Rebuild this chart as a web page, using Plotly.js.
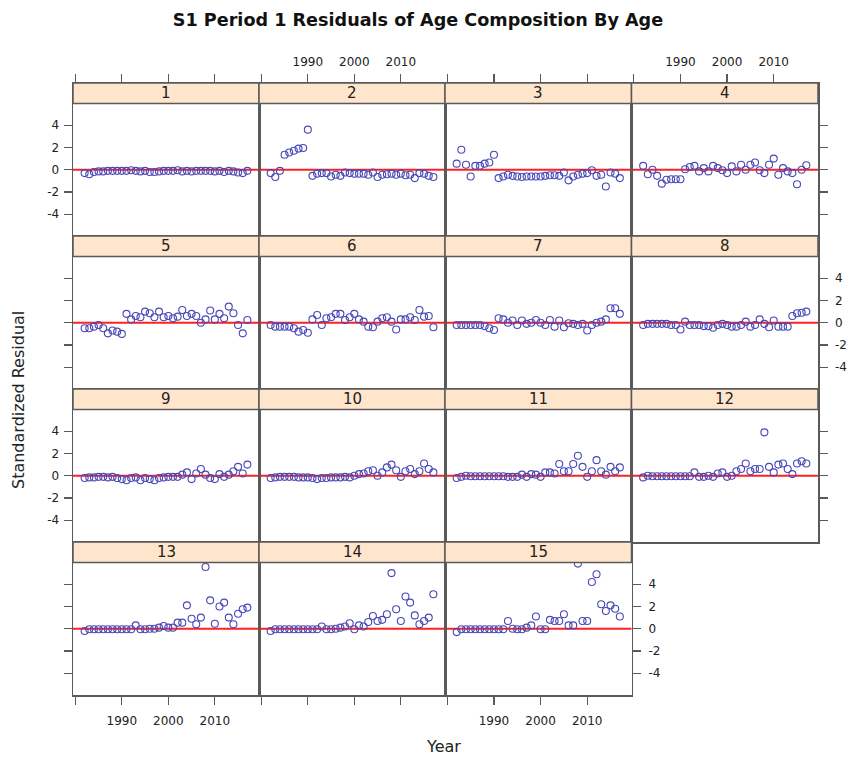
<!DOCTYPE html>
<html>
<head>
<meta charset="utf-8">
<script src="https://cdn.plot.ly/plotly-3.0.1.min.js"></script>
<style>html,body{margin:0;padding:0;background:#fff;}#chart{width:847px;height:759px;}</style>
</head>
<body>
<div id="chart"></div>
<script>
// ---------------- data ----------------
const years = [1982,1983,1984,1985,1986,1987,1988,1989,1990,1991,1992,1993,1994,1995,1996,1997,1998,1999,
               2000,2001,2002,2003,2004,2005,2006,2007,2008,2009,2010,2011,2012,2013,2014,2015,2016,2017];
const panelLabels = ["1","2","3","4","5","6","7","8","9","10","11","12","13","14","15"];
const age1  = [-0.3,-0.4,-0.2,-0.15,-0.15,-0.1,-0.1,-0.1,-0.1,-0.1,-0.05,-0.1,-0.15,-0.1,-0.2,-0.2,-0.15,-0.1,-0.1,-0.1,-0.05,-0.15,-0.1,-0.15,-0.1,-0.1,-0.1,-0.1,-0.15,-0.1,-0.2,-0.1,-0.15,-0.25,-0.3,-0.1];
const age2  = [-0.3,-0.65,-0.1,1.35,1.55,1.7,1.9,1.95,3.6,-0.55,-0.35,-0.3,-0.3,-0.6,-0.45,-0.55,-0.25,-0.3,-0.35,-0.35,-0.35,-0.45,-0.25,-0.65,-0.45,-0.4,-0.35,-0.45,-0.35,-0.5,-0.45,-0.75,-0.3,-0.35,-0.55,-0.65];
const age3  = [0.55,1.8,0.45,-0.6,0.35,0.35,0.55,0.65,1.35,-0.75,-0.6,-0.45,-0.55,-0.6,-0.65,-0.6,-0.6,-0.6,-0.6,-0.55,-0.5,-0.5,-0.55,-0.25,-0.95,-0.6,-0.45,-0.35,-0.3,-0.05,-0.55,-0.45,-1.5,-0.25,-0.35,-0.75];
const age4  = [0.35,-0.4,0,-0.55,-1.25,-0.9,-0.85,-0.85,-0.85,0.05,0.25,0.35,-0.15,0.15,-0.15,0.35,0.15,-0.05,-0.3,0.3,-0.15,0.45,0,0.45,0.65,-0.05,-0.3,0.45,1.0,-0.45,0.15,-0.15,-0.3,-1.3,0,0.4];
const age5  = [-0.5,-0.5,-0.35,-0.2,-0.5,-0.95,-0.7,-0.8,-1.0,0.8,0.3,0.6,0.5,1.0,0.85,0.5,1.0,0.5,0.6,0.4,0.55,1.15,0.6,0.8,0.6,0,0.3,1.1,0.3,0.8,0.4,1.45,0.85,-0.2,-0.95,0.25];
const age6  = [-0.2,-0.35,-0.35,-0.35,-0.35,-0.5,-0.8,-0.65,-0.9,0.3,0.7,-0.2,0.4,0.5,0.8,0.8,0.25,0.5,0.8,0.3,0.1,-0.35,-0.4,0.1,0.4,0.5,0.1,-0.6,0.3,0.3,0.5,0.25,1.15,0.55,0.6,-0.4];
const age7  = [-0.2,-0.2,-0.2,-0.2,-0.2,-0.2,-0.3,-0.5,-0.65,0.4,0.3,0,0.2,-0.2,0.2,-0.1,0,0.25,0,-0.2,0.25,-0.35,0.2,-0.4,-0.05,-0.1,-0.2,-0.1,-0.7,-0.2,0,0.1,0.3,1.3,1.3,0.8];
const age8  = [-0.2,-0.1,-0.1,-0.1,-0.1,-0.1,-0.2,-0.2,-0.6,0.1,-0.2,-0.2,-0.2,-0.3,-0.3,-0.45,-0.2,-0.1,-0.2,-0.35,-0.35,-0.2,0.1,-0.35,-0.2,0.3,-0.1,-0.4,0.2,-0.35,-0.35,-0.35,0.6,0.85,0.9,1.0];
const age9  = [-0.2,-0.15,-0.15,-0.1,-0.1,-0.15,-0.1,-0.2,-0.3,-0.4,-0.2,-0.15,-0.4,-0.2,-0.3,-0.4,-0.2,-0.15,-0.1,-0.1,-0.1,0.1,0.3,-0.3,0.2,0.6,0.1,-0.2,-0.3,0.15,-0.1,0.1,0.4,0.8,0.2,1.0];
const age10 = [-0.2,-0.15,-0.1,-0.1,-0.1,-0.1,-0.15,-0.15,-0.15,-0.2,-0.3,-0.2,-0.2,-0.15,-0.15,-0.15,-0.1,-0.15,0,0.15,0.2,0.4,0.5,0,0.3,0.75,1.0,0.5,-0.1,0.4,0.6,0.15,0.4,1.1,0.6,0.3];
const age11 = [-0.2,-0.1,0,-0.05,-0.05,-0.05,-0.05,-0.05,-0.05,-0.05,-0.05,-0.1,-0.1,-0.1,0.1,-0.1,0.15,0.1,-0.1,0.3,0.3,0.2,1.05,0.4,0.4,1.05,1.8,0.8,-0.1,0.4,1.4,0.4,0.1,0.8,0.4,0.75];
const age12 = [-0.15,0,-0.05,-0.05,-0.05,-0.05,-0.05,-0.05,-0.05,-0.05,-0.05,0.3,-0.1,-0.1,0,-0.1,0.2,0.3,-0.1,0,0.4,0.6,1.1,0.4,0.6,0.6,3.9,0.8,0.3,1.0,1.1,0.6,0.15,1.1,1.3,1.1];
const age13 = [-0.2,-0.05,-0.05,-0.05,-0.05,-0.05,-0.05,-0.05,-0.05,-0.05,-0.05,0.3,-0.05,-0.05,0,0,0.1,0.25,0.1,0.1,0.55,0.55,2.1,0.9,0.4,1.0,5.55,2.55,0.45,2.0,2.35,1.0,0.4,1.35,1.75,1.9];
const age14 = [-0.2,-0.05,-0.05,-0.05,-0.05,-0.05,-0.05,-0.05,-0.05,-0.05,-0.05,0.2,-0.05,-0.05,0,0.1,0.2,0.5,-0.05,0.3,0.2,0.6,1.15,0.7,0.8,1.3,5.0,1.75,0.7,2.9,2.35,1.2,0.4,0.7,1.0,3.1];
const age15 = [-0.3,-0.05,-0.05,-0.05,-0.05,-0.05,-0.05,-0.05,-0.05,-0.05,-0.05,0.7,0,-0.05,-0.05,0.1,0.3,1.1,-0.05,-0.05,0.8,0.7,0.7,1.3,0.3,0.3,5.85,0.7,0.7,4.2,4.9,2.2,1.6,2.1,1.8,1.1];
const residuals = [age1,age2,age3,age4,age5,age6,age7,age8,age9,age10,age11,age12,age13,age14,age15];
const xTickVals = [1980,1990,2000,2010];
const xTickText = ["","1990","2000","2010"];
const yTickVals = [-4,-2,0,2,4];
const yTickText = ["-4","-2","0","2","4"];

// ---------------- layout geometry ----------------
const W = 847, H = 759;
const colEdges = [73, 259, 445, 631.5, 818];
const rowEdges = [83, 236, 389, 542, 695];
const stripH = 20.5;
const XRANGE = [1979.5, 2019.5];
const YMIN = -5.95, YMAX = 5.95;
const FONT = "DejaVu Sans, Liberation Sans, Arial, sans-serif";
const frameColor = "#5a5a5a";
const tickFont = {family: FONT, size: 12, color: "#222"};

const traces = [];
const layout = {
  width: W, height: H,
  margin: {l: 0, r: 0, t: 0, b: 0},
  paper_bgcolor: "#fff", plot_bgcolor: "#fff",
  showlegend: false,
  title: {text: "<b>S1 Period 1 Residuals of Age Composition By Age</b>",
          x: 418 / W, xref: "paper", xanchor: "center",
          y: 1 - 20 / H, yref: "container", yanchor: "middle",
          font: {family: FONT, size: 17.6, color: "#111"}},
  shapes: [], annotations: []
};

residuals.forEach((vals, i) => {
  const n = i + 1;
  const r = Math.floor(i / 4), c = i % 4;
  const sx = n === 1 ? "" : String(n);
  const xName = "xaxis" + sx, yName = "yaxis" + sx;
  const xRef = "x" + sx, yRef = "y" + sx;
  const plotH = rowEdges[r + 1] - rowEdges[r] - stripH;
  const unit = (YMAX - YMIN) / plotH;
  const yTop = YMAX + stripH * unit;

  traces.push({
    type: "scatter", mode: "markers", x: years, y: vals,
    xaxis: xRef, yaxis: yRef,
    marker: {symbol: "circle-open", size: 7, color: "#4848b8", line: {width: 1.1, color: "#4848b8"}},
    hoverinfo: "skip"
  });

  const xa = {
    domain: [colEdges[c] / W, colEdges[c + 1] / W],
    range: XRANGE, anchor: yRef,
    showline: true, mirror: true, linecolor: frameColor, linewidth: 1.5,
    showgrid: false, zeroline: false,
    tickmode: "array", tickvals: xTickVals, ticktext: xTickText,
    tickfont: tickFont, tickcolor: frameColor, ticklen: 8, tickwidth: 1.3,
    fixedrange: true
  };
  if (r === 0) {
    xa.side = "top"; xa.ticks = "outside"; xa.showticklabels = (c % 2 === 1); xa.ticklabelstandoff = 3;
  } else if (r === 3) {
    xa.side = "bottom"; xa.ticks = "outside"; xa.showticklabels = (c % 2 === 0); xa.ticklabelstandoff = 6;
  } else {
    xa.ticks = ""; xa.showticklabels = false;
  }
  layout[xName] = xa;

  const ya = {
    domain: [1 - rowEdges[r + 1] / H, 1 - rowEdges[r] / H],
    range: [YMIN, yTop], anchor: xRef,
    showline: true, mirror: true, linecolor: frameColor, linewidth: 1.5,
    showgrid: false, zeroline: false,
    tickmode: "array", tickvals: yTickVals, ticktext: yTickText,
    tickfont: tickFont, tickcolor: frameColor, ticklen: 8, tickwidth: 1.3,
    fixedrange: true
  };
  const lastInRow = (c === 3) || (i === residuals.length - 1);
  if (c === 0) {
    ya.side = "left"; ya.ticks = "outside"; ya.showticklabels = (r % 2 === 0); ya.ticklabelstandoff = 2;
  } else if (lastInRow) {
    ya.side = "right"; ya.ticks = "outside"; ya.showticklabels = (r % 2 === 1); ya.ticklabelstandoff = 5;
  } else {
    ya.ticks = ""; ya.showticklabels = false;
  }
  layout[yName] = ya;

  // zero reference line
  layout.shapes.push({type: "line", xref: xRef + " domain", x0: 0, x1: 1, yref: yRef, y0: 0, y1: 0,
                      line: {color: "#ff2020", width: 2}, layer: "below"});
  // strip
  layout.shapes.push({type: "rect", xref: xRef + " domain", x0: 0, x1: 1, yref: yRef, y0: YMAX, y1: yTop,
                      fillcolor: "#ffe5cc", line: {color: frameColor, width: 1.5}, layer: "above"});
  layout.annotations.push({xref: xRef + " domain", x: 0.5, yref: yRef, y: (YMAX + yTop) / 2,
                           text: panelLabels[i], showarrow: false, xanchor: "center", yanchor: "middle",
                           font: {family: FONT, size: 15, color: "#222"}});
});

layout.annotations.push({xref: "paper", yref: "paper", x: 443 / W, y: 1 - 746 / H, text: "Year",
                         showarrow: false, xanchor: "center", yanchor: "middle",
                         font: {family: FONT, size: 16, color: "#222"}});
layout.annotations.push({xref: "paper", yref: "paper", x: 18 / W, y: 1 - 400 / H, text: "Standardized Residual",
                         showarrow: false, xanchor: "center", yanchor: "middle", textangle: -90,
                         font: {family: FONT, size: 16, color: "#222"}});

Plotly.newPlot("chart", traces, layout, {staticPlot: true, displayModeBar: false});
</script>
</body>
</html>
